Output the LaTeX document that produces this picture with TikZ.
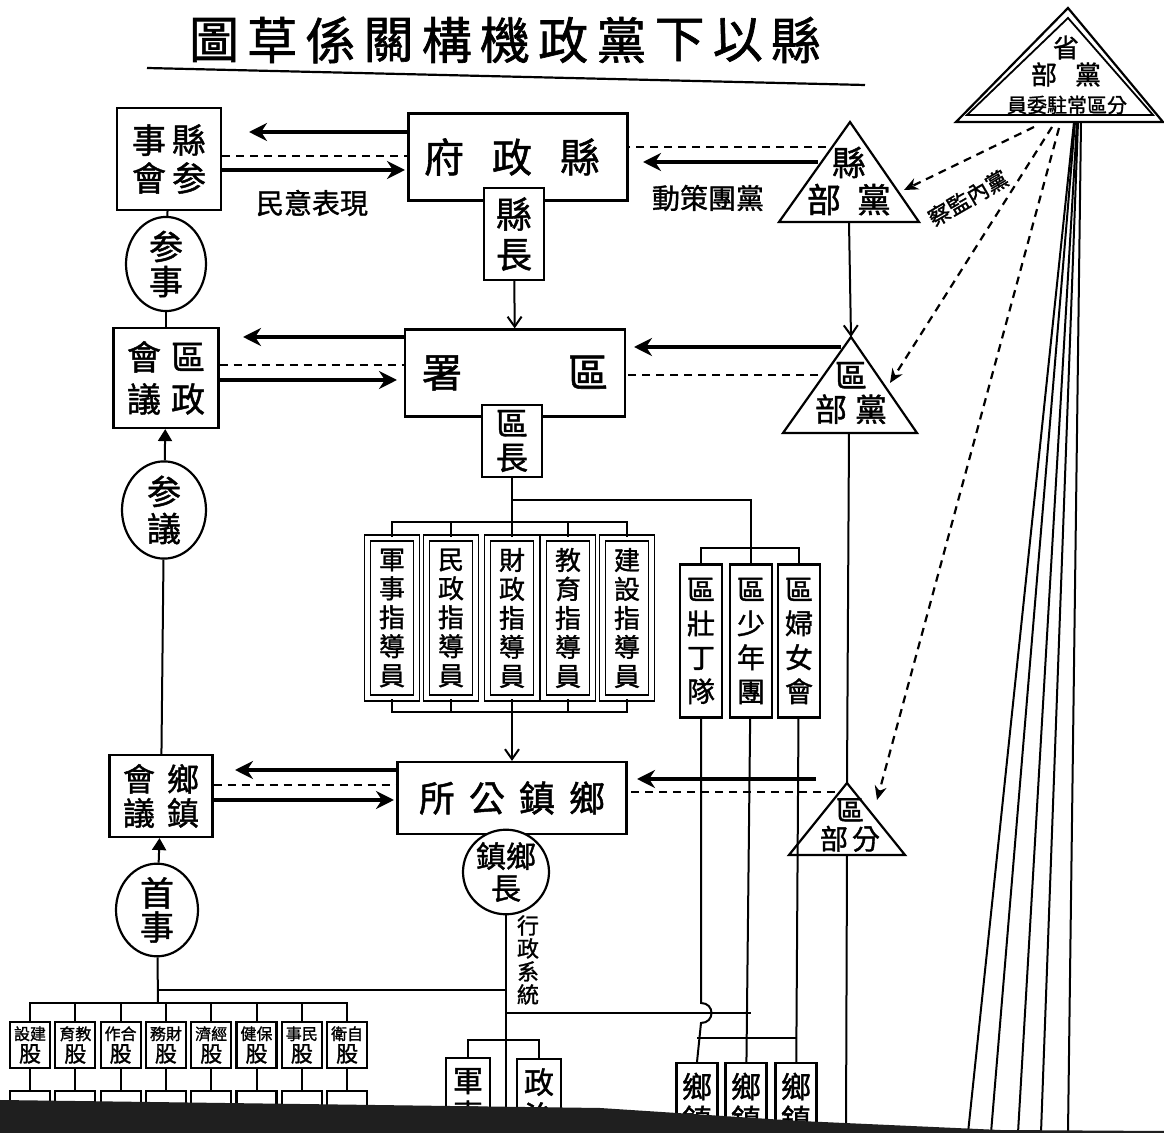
\documentclass[tikz,border=0pt]{standalone}
\usepackage{fontspec}
\newfontfamily\cjk[AutoFakeBold=1.3]{Noto Sans CJK TC}
\usetikzlibrary{positioning, arrows.meta, shapes.geometric}

\begin{document}
\begin{tikzpicture}[x=0.5pt, y=-0.5pt,
	fs/.style 2 args={font=\cjk\bfseries\fontsize{#1}{#2}\selectfont},
	txt/.style={inner sep=0pt, align=center},
	box/.style={draw, line width=1.1pt, fill=white, inner sep=0pt, align=center},
	round/.style={box, ellipse},
	guide/.style={box, double, double distance=2.2pt, line width=0.8pt},
	link/.style={line width=1pt},
	tri/.style={line width=1.1pt, line join=miter},
	bigarrow/.style={line width=2pt, -{Stealth[length=9pt, width=9pt]}},
	dashlink/.style={line width=1.1pt, dash pattern=on 4pt off 3pt},
	dasharrow/.style={dashlink, -{Stealth[length=7pt, width=6pt]}},
	thinarrow/.style={link, -{Straight Barb[length=5pt, width=7pt]}},
	uparrow/.style={link, -{Triangle[length=6pt, width=7pt]}}]
	\fill[white] (0,0) rectangle (1164,1133);
	\useasboundingbox (0,0) rectangle (1164,1133);

	\foreach \c [count=\i] in {圖,草,係,關,構,機,政,黨,下,以,縣} {
		\node[txt, fs={25}{27}] (t\i) at ({214+58.2*(\i-1)},40) {\c};
	};
	\draw[line width=1.1pt] (147,68) -- (865,85);

	\node[box, fs={17}{19}, minimum width=52pt, minimum height=51pt] (xcouncil) at (169,159) {事\hspace{3pt}縣\\會\hspace{3pt}参};
	\node[box, fs={20}{22}, minimum width=109.5pt, minimum height=43.5pt] (xgov) at (518,157) {府\hspace{14pt}政\hspace{14pt}縣\hspace{6pt}};
	\node[box, fs={18}{20}, minimum width=30pt, minimum height=46pt] (xhead) at (514,234) {縣\\長};
	\node[round, fs={17}{17.5}, minimum width=40pt, minimum height=38pt] (cadvise) at (166,264) {参\\事};

	\node[box, fs={17}{21}, minimum width=52.5pt, minimum height=50pt] (qcouncil) at (166,378) {會\hspace{5pt}區\\議\hspace{5pt}政};
	\node[box, fs={20}{22}, minimum width=110pt, minimum height=43.5pt] (qoffice) at (515,373) {署\hspace{53pt}區};
	\node[box, fs={16}{17}, minimum width=30pt, minimum height=36pt] (qhead) at (512,441) {區\\長};
	\node[round, fs={17}{18.5}, minimum width=42pt, minimum height=44pt] (qadvise) at (164,510) {参\\議};

	\foreach \n/\x/\t in {1/392/{軍\\事\\指\\導\\員}, 2/451/{民\\政\\指\\導\\員}, 3/512/{財\\政\\指\\導\\員}, 4/568/{教\\育\\指\\導\\員}, 5/627/{建\\設\\指\\導\\員}} {
		\node[guide, fs={13}{14.5}, minimum width=24.5pt, minimum height=80pt] (g\n) at (\x,618) {\t};
	};
	\foreach \n/\x/\t in {1/701/{區\\壯\\丁\\隊}, 2/751/{區\\少\\年\\團}, 3/799/{區\\婦\\女\\會}} {
		\node[box, fs={14}{17}, minimum width=21pt, minimum height=76.5pt] (y\n) at (\x,641) {\t};
	};

	\node[box, fs={16}{17}, minimum width=51.5pt, minimum height=41pt] (tcouncil) at (161,796) {會\hspace{6pt}鄉\\議\hspace{6pt}鎮};
	\node[box, fs={18}{20}, minimum width=114.5pt, minimum height=36pt] (toffice) at (512,798) {所\hspace{7pt}公\hspace{7pt}鎮\hspace{7pt}鄉};
	\node[round, fs={17}{17}, minimum width=41pt, minimum height=43pt] (tadvise) at (157,910) {首\\事};
	\node[round, fs={15}{16}, minimum width=43pt, minimum height=37.5pt] (thead) at (506,872) {鎮鄉\\長};

	\foreach \n/\t in {1/設建, 2/育教, 3/作合, 4/務財, 5/濟經, 6/健保, 7/事民, 8/衛自} {
		\node[box, font=\cjk\bfseries, minimum width=20pt, minimum height=23pt] (s\n) at ({30+45.3*(\n-1)},1045) {{\fontsize{8}{9}\selectfont \t}\\[-1pt]{\fontsize{11}{12}\selectfont 股}};
		\node[box, minimum width=20pt, minimum height=20pt, anchor=north] (r\n) at ({30+45.3*(\n-1)},1090) {};
	};
	\node[box, fs={15}{17}, minimum width=22pt, minimum height=40pt, anchor=north] (m1) at (468,1057) {軍\\事};
	\node[box, fs={15}{17}, minimum width=22pt, minimum height=40pt, anchor=north] (m2) at (539,1058) {政\\治};
	\foreach \n/\x in {1/697, 2/746, 3/796} {
		\node[box, fs={15}{16.5}, minimum width=20.5pt, minimum height=40pt, anchor=north] (v\n) at (\x,1062) {鄉\\鎮};
	};

	\draw[tri] (850,122) coordinate (xpTop) -- (919,222) -- (779,222) -- cycle;
	\draw[tri] (851,337) coordinate (qpTop) -- (917,433) -- (783,433) -- cycle;
	\draw[tri] (847,783) coordinate (tpTop) -- (905,855) -- (789,855) -- cycle;
	\draw[tri] (1068,8) -- (1163,122) -- (956,122) -- cycle;
	\draw[tri, line width=0.9pt] (1068,18) -- (1153,115) -- (967,115) -- cycle;
	\coordinate (xpBot) at (849,222);
	\coordinate (qpBot) at (849,433);
	\coordinate (tpBot) at (847,855);
	\coordinate (tpEnd) at (846,1133);
	\node[txt, fs={17}{18.5}] (xparty) at (849,181) {縣\\部\hspace{8pt}黨};
	\node[txt, fs={16}{17}] (qparty) at (851,393) {區\\部\hspace{4pt}黨};
	\node[txt, fs={14}{14.5}] (tparty) at (850,825) {區\\部\hspace{2pt}分};
	\node[txt, fs={13}{13.5}] (sparty) at (1066,61) {省\\部\hspace{9pt}黨};
	\node[txt, fs={10}{11}] (smember) at (1067,105) {員委駐常區分};

	\node[txt, fs={14}{14}] (will) at (312,203) {民意表現};
	\node[txt, fs={14}{14}] (policy) at (708,198) {動策團黨};
	\node[txt, fs={11}{11}, rotate=30] (inspect) at (968,198) {察監內黨};
	\node[txt, fs={11}{11.5}] (admin) at (528,960) {行\\政\\系\\統};

	\draw[link] (xcouncil) -- (cadvise);
	\draw[link] (cadvise) -- (qcouncil);
	\draw[uparrow] (qadvise) -- (qcouncil);
	\draw[link] (qadvise) -- (tcouncil);
	\draw[uparrow] (tadvise) -- (tcouncil);
	\draw[thinarrow] (xhead) -- (qoffice);

	\coordinate (qsplit) at (512,500);
	\coordinate (gtop) at (512,522);
	\coordinate (gbot) at (512,712);
	\coordinate (ytop) at (751,548);
	\draw[link] (qhead) -- (gtop);
	\foreach \n in {1,...,5} {
		\draw[link] (gtop) -| (g\n.north);
		\draw[link] (gbot) -| (g\n.south);
	};
	\draw[link] (qsplit) -| (ytop);
	\foreach \n in {1,2,3} {
		\draw[link] (ytop) -| (y\n.north);
	};
	\draw[thinarrow] (gbot) -- (toffice);

	\coordinate (jump) at (0,1013);
	\coordinate (jumpa) at (0,1003);
	\coordinate (jumpb) at (0,1023);
	\coordinate (vbar) at (0,1038);
	\draw[link] (y1.south) -- (y1.south |- jumpa) .. controls +(14,0) and +(14,0) .. (y1.south |- jumpb) -- (v1.north);
	\draw[link] (y2) -- (v2);
	\draw[link] (y3) -- (v3);
	\draw[link] (v1.north |- vbar) -- (v3.north |- vbar);

	\coordinate (tbottom) at (506,1133);
	\coordinate (sjoin) at (158,990);
	\coordinate (sbar) at (158,1003);
	\coordinate (mbar) at (506,1040);
	\draw[link] (thead) -- (tbottom);
	\draw[link] (sjoin) -- (thead |- sjoin);
	\draw[link] (thead |- jump) -- (y2.south |- jump);
	\draw[link] (mbar) -| (m1.north);
	\draw[link] (mbar) -| (m2.north);
	\draw[link] (tadvise) -- (sbar);
	\foreach \n in {1,...,8} {
		\draw[link] (sbar) -| (s\n.north);
		\draw[link] (s\n) -- (r\n);
	};

	\draw[thinarrow] (xpBot) -- (qpTop);
	\draw[link] (qpBot) -- (tpTop);
	\draw[link] (tpBot) -- (tpEnd);

	\coordinate (xl) at (249,132);
	\coordinate (xd) at (0,156);
	\coordinate (xr) at (405,170);
	\coordinate (xpd) at (826,147);
	\coordinate (xps) at (818,162);
	\coordinate (xpl) at (643,162);
	\draw[bigarrow] (xgov.west |- xl) -- (xl);
	\draw[dashlink] (xcouncil.east |- xd) -- (xgov.west |- xd);
	\draw[bigarrow] (xcouncil.east |- xr) -- (xr);
	\draw[dashlink] (xpd) -- (xgov.east |- xpd);
	\draw[bigarrow] (xps) -- (xpl);

	\coordinate (ql) at (243,337);
	\coordinate (qd) at (0,365);
	\coordinate (qr) at (397,380);
	\coordinate (qps) at (841,347);
	\coordinate (qpl) at (634,347);
	\coordinate (qpd) at (818,375);
	\draw[bigarrow] (qoffice.west |- ql) -- (ql);
	\draw[dashlink] (qcouncil.east |- qd) -- (qoffice.west |- qd);
	\draw[bigarrow] (qcouncil.east |- qr) -- (qr);
	\draw[bigarrow] (qps) -- (qpl);
	\draw[dashlink] (qpd) -- (qoffice.east |- qpd);

	\coordinate (tl) at (235,770);
	\coordinate (td) at (0,785);
	\coordinate (tr) at (394,800);
	\coordinate (tps) at (816,779);
	\coordinate (tpl) at (637,779);
	\coordinate (tpd) at (835,792);
	\draw[bigarrow] (toffice.west |- tl) -- (tl);
	\draw[dashlink] (tcouncil.east |- td) -- (toffice.west |- td);
	\draw[bigarrow] (tcouncil.east |- tr) -- (tr);
	\draw[bigarrow] (tps) -- (tpl);
	\draw[dashlink] (tpd) -- (toffice.east |- tpd);

	\coordinate (sp1) at (1034,127);
	\coordinate (sp2) at (1052,127);
	\coordinate (sp3) at (1059,128);
	\coordinate (xpR) at (904,190);
	\coordinate (qpR) at (890,383);
	\coordinate (tpR) at (877,800);
	\draw[dasharrow] (sp1) -- (xpR);
	\draw[dasharrow] (sp2) -- (qpR);
	\draw[dasharrow] (sp3) -- (tpR);

	\foreach \i/\t/\b in {1/1074/968, 2/1075/991, 3/1077/1018, 4/1078/1041, 5/1081/1068} {
		\coordinate (ftop\i) at (\t,122);
		\coordinate (fbot\i) at (\b,1133);
		\draw[link] (ftop\i) -- (fbot\i);
	};

	\fill[black!88] (0,1100) -- (600,1108) -- (800,1121) -- (1000,1130) -- (1164,1131) -- (1164,1133) -- (0,1133) -- cycle;
\end{tikzpicture}
\end{document}
